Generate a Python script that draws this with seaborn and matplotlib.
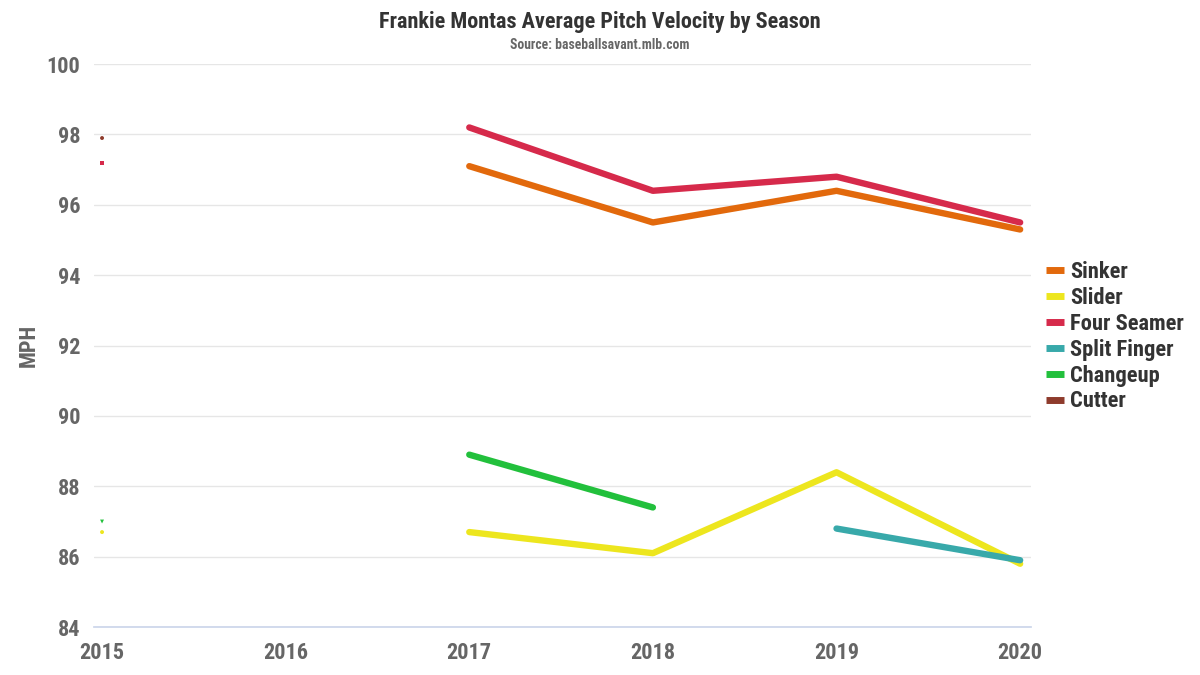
import pandas as pd
import numpy as np
import matplotlib.pyplot as plt
import seaborn as sns

# Data (NaN = no pitches that season)
seasons = [2015, 2016, 2017, 2018, 2019, 2020]
sinker = [np.nan, np.nan, 97.1, 95.5, 96.4, 95.3]
slider = [86.7, np.nan, 86.7, 86.1, 88.4, 85.8]
four_seamer = [97.2, np.nan, 98.2, 96.4, 96.8, 95.5]
split_finger = [np.nan, np.nan, np.nan, np.nan, 86.8, 85.9]
changeup = [87.0, np.nan, 88.9, 87.4, np.nan, np.nan]
cutter = [97.9, np.nan, np.nan, np.nan, np.nan, np.nan]

pitches = ["Sinker", "Slider", "Four Seamer", "Split Finger", "Changeup", "Cutter"]
values = [sinker, slider, four_seamer, split_finger, changeup, cutter]
colors = ["#e2690c", "#ede61e", "#d62a4b", "#38a9aa", "#22c03c", "#8e3b2c"]
palette = dict(zip(pitches, colors))

rows = []
for name, vals in zip(pitches, values):
    seg = 0
    for yr, v in zip(seasons, vals):
        if np.isnan(v):
            seg += 1
            continue
        rows.append({"Season": yr, "MPH": v, "Pitch": name, "seg": f"{name}-{seg}"})
df = pd.DataFrame(rows)
sizes = df.groupby("seg")["Season"].transform("size")
singles = df[sizes == 1]

sns.set_theme(style="white")
plt.rcParams["font.family"] = ["Roboto Condensed", "Liberation Sans Narrow", "Roboto", "DejaVu Sans"]
plt.rcParams["font.weight"] = "bold"

fig = plt.figure(figsize=(12, 6.75), dpi=100)
ax = fig.add_axes([0.0783, 0.071, 0.781, 0.834])

sns.lineplot(data=df, x="Season", y="MPH", hue="Pitch", units="seg", estimator=None,
             palette=palette, hue_order=pitches, linewidth=4.6, ax=ax, legend=False)
sns.scatterplot(data=singles, x="Season", y="MPH", hue="Pitch", palette=palette,
                style="Pitch", markers={"Slider": "o", "Four Seamer": "s", "Changeup": "v", "Cutter": "o"},
                s=8, linewidth=0, ax=ax, legend=False)

ax.set_xlim(2014.956, 2020.06)
ax.set_ylim(84, 100)
ax.set_xticks(seasons)
ax.set_yticks(range(84, 101, 2))
ax.yaxis.grid(True, color="#e6e6e6", linewidth=1)
ax.xaxis.grid(False)
for side in ["top", "right", "left"]:
    ax.spines[side].set_visible(False)
ax.spines["bottom"].set_color("#ccd6eb")
ax.tick_params(axis="x", length=7, color="#ccd6eb", labelsize=16, labelcolor="#666666", pad=4)
ax.tick_params(axis="y", length=0, labelsize=16, labelcolor="#666666", pad=10)
for lbl in ax.get_xticklabels() + ax.get_yticklabels():
    lbl.set_fontweight("bold")
ax.set_xlabel("")
ax.set_ylabel("MPH", fontsize=16, fontweight="bold", color="#666666")
ax.yaxis.set_label_coords(-0.058, 0.5)

handles = [plt.Line2D([0], [0], color=c, linewidth=5, solid_capstyle="butt") for c in colors]
leg = fig.legend(handles, pitches, loc="center left", bbox_to_anchor=(0.862, 0.501),
                 frameon=False, handlelength=0.8, handletextpad=0.3, labelspacing=0.17,
                 borderpad=0, prop={"size": 16.2, "weight": "bold"})
for t in leg.get_texts():
    t.set_color("#333333")

fig.text(0.5, 0.968, "Frankie Montas Average Pitch Velocity by Season", ha="center", va="center",
         fontsize=16, fontweight="bold", color="#333333")
fig.text(0.5, 0.933, "Source: baseballsavant.mlb.com", ha="center", va="center",
         fontsize=9.8, fontweight="bold", color="#666666")

fig.savefig("out.png", dpi=100, facecolor="white")
